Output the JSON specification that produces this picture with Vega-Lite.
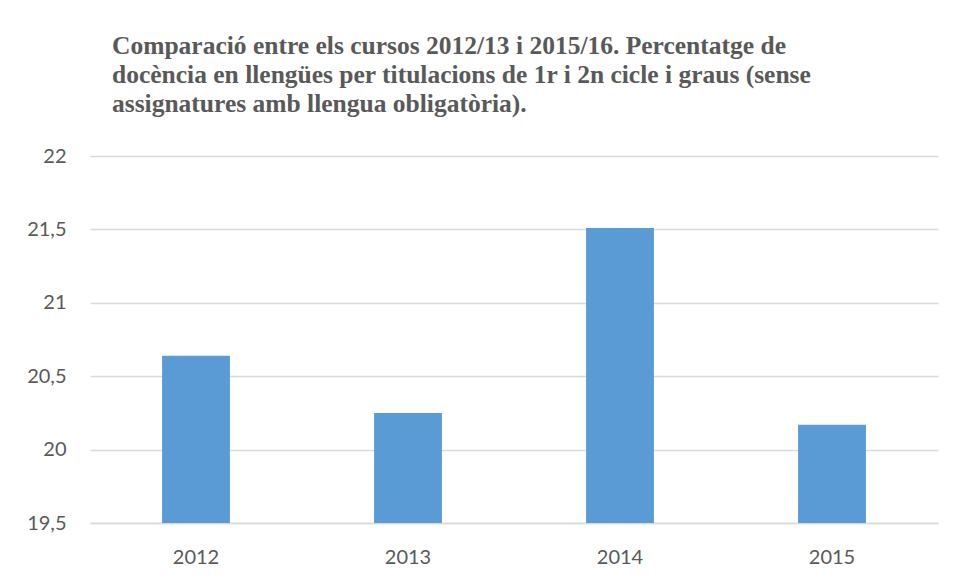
{
  "$schema": "https://vega.github.io/schema/vega-lite/v6.json",
  "width": 848,
  "height": 367,
  "autosize": {"type": "none"},
  "padding": {"left": 90, "top": 156, "right": 18, "bottom": 55},
  "background": "white",
  "title": {
    "text": [
      "Comparació entre els cursos 2012/13 i 2015/16. Percentatge de",
      "docència en llengües per titulacions de 1r i 2n cicle i graus (sense",
      "assignatures amb llengua obligatòria)."
    ],
    "anchor": "start",
    "frame": "group",
    "dx": 22,
    "offset": 29,
    "fontSize": 25.5,
    "lineHeight": 29,
    "color": "#595959"
  },
  "data": {
    "values": [
      {"curs": "2012", "valor": 20.64},
      {"curs": "2013", "valor": 20.25},
      {"curs": "2014", "valor": 21.51},
      {"curs": "2015", "valor": 20.17}
    ]
  },
  "mark": {"type": "bar", "color": "#5b9bd5"},
  "encoding": {
    "x": {
      "field": "curs",
      "type": "nominal",
      "sort": null,
      "scale": {"paddingInner": 0.68, "paddingOuter": 0.34},
      "axis": {
        "title": null,
        "labelAngle": 0,
        "ticks": false,
        "domainColor": "#d9d9d9",
        "domainWidth": 1.5,
        "labelPadding": 24,
        "labelFont": "Lato",
        "labelFontSize": 20,
        "labelColor": "#595959"
      }
    },
    "y": {
      "field": "valor",
      "type": "quantitative",
      "scale": {"domain": [19.5, 22], "zero": false, "nice": false},
      "axis": {
        "title": null,
        "values": [19.5, 20, 20.5, 21, 21.5, 22],
        "format": "~g",
        "labelExpr": "replace(datum.label, '.', ',')",
        "domain": false,
        "ticks": false,
        "gridColor": "#d9d9d9",
        "gridWidth": 1.5,
        "labelPadding": 24,
        "labelFont": "Lato",
        "labelFontSize": 20,
        "labelColor": "#595959"
      }
    },
    "y2": {"datum": 19.5}
  },
  "config": {
    "view": {"stroke": null},
    "title": {"font": "Liberation Serif", "fontWeight": "bold"}
  }
}
